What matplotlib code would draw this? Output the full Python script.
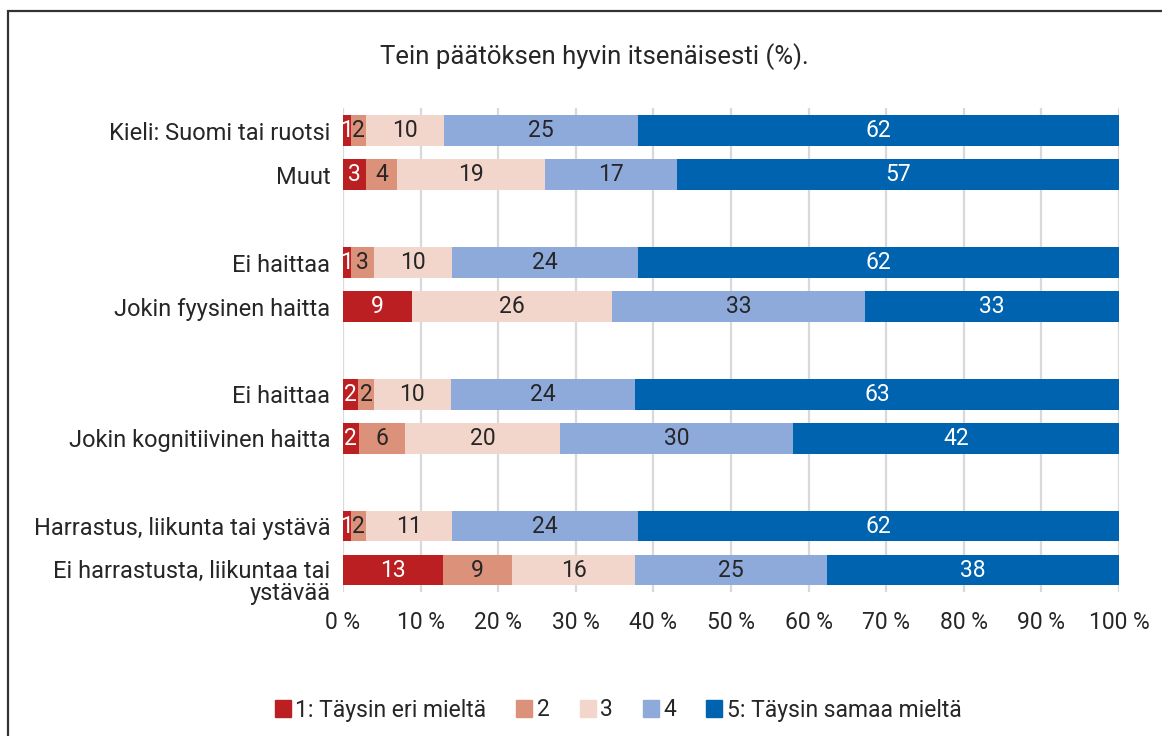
import matplotlib
matplotlib.use("Agg")
import matplotlib.pyplot as plt
import matplotlib.patches as mpatches
import matplotlib.transforms as mtransforms
import numpy as np

plt.rcParams['font.family'] = ['Roboto', 'DejaVu Sans']

title = "Tein päätöksen hyvin itsenäisesti (%)."
categories = [
    "Kieli: Suomi tai ruotsi",
    "Muut",
    "Ei haittaa",
    "Jokin fyysinen haitta",
    "Ei haittaa",
    "Jokin kognitiivinen haitta",
    "Harrastus, liikunta tai ystävä",
    "Ei harrastusta, liikuntaa tai\nystävää",
]
# row positions (gaps between groups)
positions = [0, 1, 3, 4, 6, 7, 9, 10]

series_names = ["1: Täysin eri mieltä", "2", "3", "4", "5: Täysin samaa mieltä"]
s1 = [1, 3, 1, 9, 2, 2, 1, 13]
s2 = [2, 4, 3, 0, 2, 6, 2, 9]
s3 = [10, 19, 10, 26, 10, 20, 11, 16]
s4 = [25, 17, 24, 33, 24, 30, 24, 25]
s5 = [62, 57, 62, 33, 63, 42, 62, 38]

colors = ["#BB1F21", "#DC917A", "#F2D5CB", "#8EAADB", "#0063AF"]
text_colors = ["white", "#262626", "#262626", "#262626", "white"]
xticks = [0, 10, 20, 30, 40, 50, 60, 70, 80, 90, 100]
xticklabels = [f"{t} %" for t in xticks]

data = np.array([s1, s2, s3, s4, s5], dtype=float)
totals = data.sum(axis=0)
pct = data / totals * 100

fig = plt.figure(figsize=(11.62, 7.36), dpi=100)
ax = fig.add_axes([343/1162, 1 - 592/736, 776/1162, 484/736])

txtc = "#262626"
fs = 16.5

left = np.zeros(len(categories))
for i in range(5):
    bars = ax.barh(positions, pct[i], left=left, height=0.7, color=colors[i],
                   edgecolor='none', zorder=3)
    for j, b in enumerate(bars):
        v = data[i][j]
        if v > 0:
            ax.text(left[j] + pct[i][j] / 2, positions[j], f"{int(v)}",
                    ha='center', va='center', color=text_colors[i],
                    fontsize=fs, zorder=4)
    left += pct[i]

ax.set_xlim(0, 100)
ax.set_ylim(10.5, -0.52)
ax.set_xticks(xticks)
ax.set_xticklabels(xticklabels, fontsize=fs, color=txtc)
ax.set_yticks(positions)
ax.set_yticklabels(categories, fontsize=17, color=txtc)
ax.tick_params(axis='y', length=0, pad=9)
ax.tick_params(axis='x', length=0, pad=14)
for lab in ax.get_yticklabels():
    if "\n" in lab.get_text():
        lab.set_linespacing(0.95)
        lab.set_transform(lab.get_transform() +
                          mtransforms.ScaledTranslation(0, -10/100, fig.dpi_scale_trans))
ax.xaxis.grid(True, color="#D9D9D9", linewidth=1.6, zorder=0)
ax.set_axisbelow(True)
for s in ax.spines.values():
    s.set_visible(False)

fig.text(594/1162, 1 - 57/736, title, ha='center', va='center',
         fontsize=18.5, color=txtc)

handles = [mpatches.Patch(color=c, label=n) for c, n in zip(colors, series_names)]
fig.legend(handles=handles, loc='center', bbox_to_anchor=(618/1162, 1 - 710/736),
           ncol=5, frameon=False, fontsize=fs, handlelength=0.7, handleheight=0.7,
           handletextpad=0.2, columnspacing=1.3, labelcolor=txtc)

# outer frame (extends beyond image edges)
frame = mpatches.Rectangle((7.5/1162, -0.05), 1.1, 1 - 11.5/736 + 0.05,
                           transform=fig.transFigure, fill=False,
                           edgecolor="#333333", linewidth=1.6, clip_on=False)
fig.patches.append(frame)

fig.savefig("out.png", dpi=100)
